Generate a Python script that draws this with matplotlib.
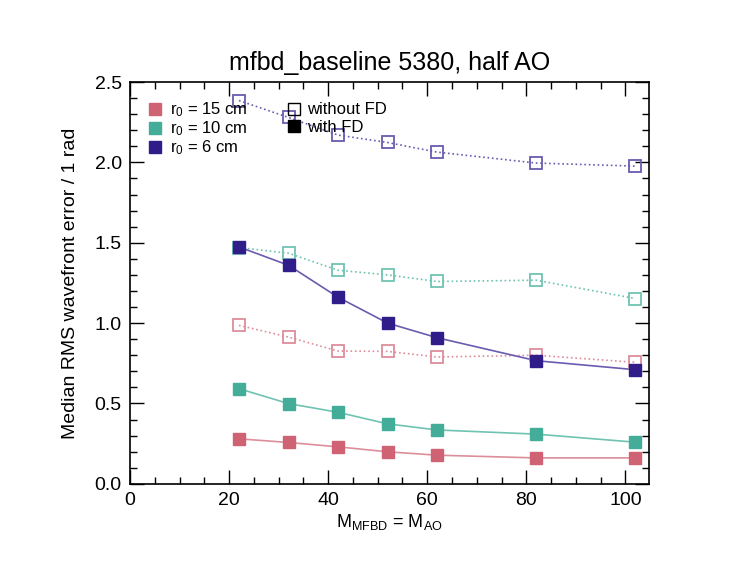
import matplotlib
matplotlib.use('Agg')
import matplotlib.pyplot as plt
from matplotlib.lines import Line2D
from matplotlib.ticker import MultipleLocator

plt.rcParams['font.family'] = ['Liberation Sans', 'DejaVu Sans']
plt.rcParams['mathtext.fontset'] = 'custom'
plt.rcParams['mathtext.rm'] = 'Liberation Sans'
plt.rcParams['mathtext.it'] = 'Liberation Sans'

# number of modes
modes = [22, 32, 42, 52, 62, 82, 102]

# median RMS wavefront error, with and without FD
r15_fd = [0.28, 0.257, 0.23, 0.199, 0.178, 0.161, 0.161]
r15_nofd = [0.986, 0.913, 0.826, 0.824, 0.789, 0.80, 0.756]
r10_fd = [0.592, 0.499, 0.445, 0.373, 0.335, 0.309, 0.259]
r10_nofd = [1.47, 1.435, 1.329, 1.30, 1.259, 1.267, 1.153]
r6_fd = [1.474, 1.36, 1.161, 1.0, 0.909, 0.766, 0.71]
r6_nofd = [2.385, 2.28, 2.17, 2.124, 2.064, 1.996, 1.977]

seeing_labels = ['15 cm', '10 cm', '6 cm']
col_red = '#cf6374'
col_green = '#44ad99'
col_blue = '#311d89'
line_red = '#dc8e9b'
line_green = '#6fc3b2'
line_blue = '#6a5bb0'

fig = plt.figure(figsize=(7.47, 5.78), dpi=100)
ax = fig.add_axes([0.174, 0.163, 0.695, 0.695])

series = [
    (r15_nofd, r15_fd, col_red, line_red),
    (r10_nofd, r10_fd, col_green, line_green),
    (r6_nofd, r6_fd, col_blue, line_blue),
]
for nofd, fd, c, lc in series:
    ax.plot(modes, nofd, linestyle=':', color=lc, lw=1.2, zorder=2)
    ax.plot(modes, nofd, linestyle='none', marker='s', markersize=9,
            markerfacecolor='none', markeredgecolor=lc, markeredgewidth=1.3, zorder=3)
    ax.plot(modes, fd, linestyle='-', color=lc, lw=1.2, zorder=2)
    ax.plot(modes, fd, linestyle='none', marker='s', markersize=9,
            color=c, markeredgecolor=c, zorder=4)

ax.set_xlim(0, 104.8)
ax.set_ylim(0, 2.5)
ax.xaxis.set_major_locator(MultipleLocator(20))
ax.xaxis.set_minor_locator(MultipleLocator(5))
ax.yaxis.set_major_locator(MultipleLocator(0.5))
ax.yaxis.set_minor_locator(MultipleLocator(0.1))
ax.yaxis.set_major_formatter(matplotlib.ticker.FormatStrFormatter('%.1f'))
ax.tick_params(which='both', direction='in', top=True, right=True, labelsize=14, width=1)
ax.tick_params(which='major', length=10, pad=6)
ax.tick_params(which='minor', length=5)
for s in ax.spines.values():
    s.set_linewidth(1.2)

ax.set_title('mfbd_baseline 5380, half AO', fontsize=18, pad=9)
ax.set_xlabel(r'$\mathrm{M_{MFBD}}$ = $\mathrm{M_{AO}}$', fontsize=13, labelpad=2)
ax.set_ylabel('Median RMS wavefront error / 1 rad', fontsize=14, labelpad=11)

h1 = [Line2D([], [], linestyle='none', marker='s', markersize=8, color=c)
      for c in (col_red, col_green, col_blue)]
leg1 = ax.legend(h1, [r'$\mathrm{r_0}$ = ' + s for s in seeing_labels],
                 loc='upper left', bbox_to_anchor=(0.02, 0.975), frameon=False,
                 fontsize=12, handlelength=0.8, handletextpad=0.5,
                 labelspacing=0.02, borderpad=0)
ax.add_artist(leg1)
h2 = [Line2D([], [], linestyle='none', marker='s', markersize=9,
             markerfacecolor='none', markeredgecolor='black'),
      Line2D([], [], linestyle='none', marker='s', markersize=9, color='black')]
ax.legend(h2, ['without FD', 'with FD'], loc='upper left',
          bbox_to_anchor=(0.287, 0.97), frameon=False, fontsize=12,
          handlelength=0.8, handletextpad=0.4, labelspacing=0.15, borderpad=0)

fig.savefig('out.png', dpi=100)
